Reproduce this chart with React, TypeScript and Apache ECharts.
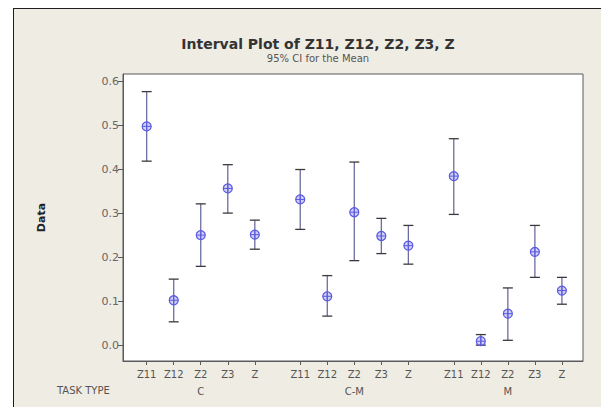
import React, { useEffect, useRef } from "react";
import * as echarts from "echarts";

const groups = ["C", "C-M", "M"];
const variables = ["Z11", "Z12", "Z2", "Z3", "Z"];
const yTicks = [0, 0.1, 0.2, 0.3, 0.4, 0.5, 0.6];

// mean, lower CI, upper CI per group (order of variables)
const meanC = [0.497, 0.102, 0.25, 0.356, 0.251];
const lowC = [0.418, 0.053, 0.179, 0.3, 0.218];
const highC = [0.576, 0.15, 0.321, 0.41, 0.284];

const meanCM = [0.331, 0.111, 0.302, 0.248, 0.226];
const lowCM = [0.263, 0.066, 0.192, 0.208, 0.184];
const highCM = [0.399, 0.158, 0.416, 0.288, 0.272];

const meanM = [0.384, 0.009, 0.0715, 0.212, 0.124];
const lowM = [0.297, 0.0, 0.011, 0.154, 0.093];
const highM = [0.469, 0.024, 0.13, 0.272, 0.154];

const GROUP_GAP = 0.68;
const FONT = "Tahoma, 'DejaVu Sans', sans-serif";

export default function App() {
  const ref = useRef<HTMLDivElement>(null);
  useEffect(() => {
    if (!ref.current) return;
    const chart = echarts.init(ref.current, null, { renderer: "svg" });
    const means = [meanC, meanCM, meanM];
    const lows = [lowC, lowCM, lowM];
    const highs = [highC, highCM, highM];
    const data: number[][] = [];
    const positions: number[] = [];
    const labelAt: Record<string, string> = {};
    groups.forEach((g, gi) => {
      variables.forEach((v, vi) => {
        const p = gi * (5 + GROUP_GAP) + vi + 1;
        positions.push(p);
        // the group name sits under the middle variable of each group
        labelAt[p.toFixed(2)] = vi === 2 ? `${v}\n{g|${g}}` : v;
        data.push([p, means[gi][vi], lows[gi][vi], highs[gi][vi]]);
      });
    });

    const option: any = {
      animation: false,
      backgroundColor: "transparent",
      title: {
        text: "Interval Plot of Z11, Z12, Z2, Z3, Z",
        subtext: "95% CI for the Mean",
        left: 313,
        top: 32,
        textAlign: "center",
        itemGap: 2,
        textStyle: { fontFamily: FONT, fontSize: 14, fontWeight: "bold", color: "#333" },
        subtextStyle: { fontFamily: FONT, fontSize: 10, color: "#555" },
      },
      graphic: [
        {
          type: "text",
          left: 57,
          top: 385,
          style: { text: "TASK TYPE", fontFamily: FONT, fontSize: 10, fill: "#555" },
        },
      ],
      grid: {
        left: 123,
        top: 74,
        width: 460,
        height: 287,
        show: true,
        backgroundColor: "#ffffff",
        borderColor: "#5a5a5a",
        borderWidth: 1,
      },
      xAxis: {
        type: "value",
        min: 0.124,
        max: 17.14,
        splitLine: { show: false },
        axisLine: { show: true, onZero: false, lineStyle: { color: "#5a5a5a" } },
        axisTick: { show: true, customValues: positions, length: 4, lineStyle: { color: "#5a5a5a" } },
        axisLabel: {
          customValues: positions,
          formatter: (v: number) => labelAt[v.toFixed(2)] || "",
          fontFamily: FONT,
          fontSize: 10,
          color: "#555",
          margin: 7,
          lineHeight: 12,
          rich: { g: { fontFamily: FONT, fontSize: 10, color: "#555", lineHeight: 22 } },
        },
      },
      yAxis: {
        type: "value",
        min: -0.036,
        max: 0.616,
        name: "Data",
        nameLocation: "middle",
        nameRotate: 90,
        nameGap: 76,
        nameTextStyle: { fontFamily: FONT, fontSize: 11, fontWeight: "bold", color: "#222" },
        splitLine: { show: false },
        axisLine: { show: true, onZero: false, lineStyle: { color: "#5a5a5a" } },
        axisTick: { show: true, customValues: yTicks, length: 5, lineStyle: { color: "#5a5a5a" } },
        axisLabel: {
          customValues: yTicks,
          formatter: (v: number) => v.toFixed(1),
          fontFamily: FONT,
          fontSize: 11,
          color: "#666",
          margin: 4,
        },
      },
      series: [
        {
          type: "custom",
          data,
          renderItem: (params: any, api: any) => {
            const x = api.value(0);
            const m = api.coord([x, api.value(1)]);
            const lo = api.coord([x, api.value(2)]);
            const hi = api.coord([x, api.value(3)]);
            const cw = 5;
            const r = 4.5;
            return {
              type: "group",
              children: [
                {
                  type: "line",
                  shape: { x1: m[0], y1: lo[1], x2: m[0], y2: hi[1] },
                  style: { stroke: "#6c6ca0", lineWidth: 1.3 },
                },
                {
                  type: "line",
                  shape: { x1: m[0] - cw, y1: hi[1], x2: m[0] + cw, y2: hi[1] },
                  style: { stroke: "#3a3a3a", lineWidth: 1.3 },
                },
                {
                  type: "line",
                  shape: { x1: m[0] - cw, y1: lo[1], x2: m[0] + cw, y2: lo[1] },
                  style: { stroke: "#3a3a3a", lineWidth: 1.3 },
                },
                {
                  type: "circle",
                  shape: { cx: m[0], cy: m[1], r },
                  style: { fill: "rgba(120,120,240,0.35)", stroke: "#5a5ae0", lineWidth: 1.2 },
                },
                {
                  type: "line",
                  shape: { x1: m[0] - r, y1: m[1], x2: m[0] + r, y2: m[1] },
                  style: { stroke: "#5a5ae0", lineWidth: 1 },
                },
                {
                  type: "line",
                  shape: { x1: m[0], y1: m[1] - r, x2: m[0], y2: m[1] + r },
                  style: { stroke: "#5a5ae0", lineWidth: 1 },
                },
              ],
            };
          },
        },
      ],
    };
    chart.setOption(option);
    return () => chart.dispose();
  }, []);
  return (
    <div style={{ position: "fixed", left: 0, top: 0, width: 601, height: 407, background: "#ffffff", overflow: "hidden" }}>
      <div
        style={{
          position: "absolute",
          left: 13,
          top: 8,
          width: 600,
          height: 410,
          background: "#efece3",
          borderTop: "1.5px solid #1e1e1e",
          borderLeft: "1.5px solid #1e1e1e",
        }}
      />
      <div ref={ref} style={{ position: "absolute", left: 0, top: 0, width: 601, height: 407 }} />
    </div>
  );
}
